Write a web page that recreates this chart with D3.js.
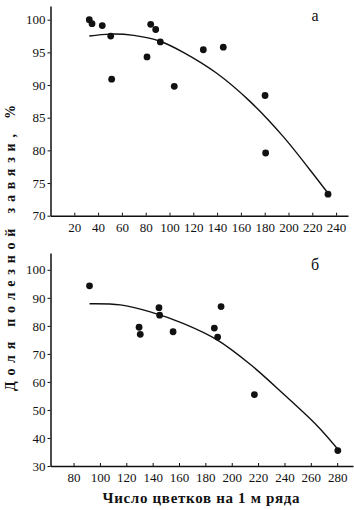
<!DOCTYPE html>
<html>
<head>
<meta charset="utf-8">
<script src="https://cdn.jsdelivr.net/npm/d3@7"></script>
<style>
  body { margin: 0; background: #fff; }
  .axis path, .axis line { stroke: #111; }
</style>
</head>
<body>
<div id="chart"></div>
<script>
// Panel "а": flowers per 1 m of row vs share of useful set, %
const flowersA = [32.6, 34.9, 43.5, 50.6, 51.4, 81.1, 84.2, 88.4, 92.3, 104, 128.4, 145.2, 180.3, 180.8, 233.2]
const shareA = [100, 99.4, 99.1, 97.5, 90.9, 94.3, 99.3, 98.5, 96.6, 89.8, 95.4, 95.8, 88.4, 79.6, 73.3]
// trend line
const trendXA = [32.6, 50, 70, 92, 111.6, 139.7, 167.6, 195.6, 218.1, 232.1]
const trendYA = [97.5, 97.8, 97.6, 96.7, 95.0, 91.8, 87.5, 82.1, 77.0, 73.7]
const xTicksA = [20, 40, 60, 80, 100, 120, 140, 160, 180, 200, 220, 240]
const yTicksA = [70, 75, 80, 85, 90, 95, 100]

// Panel "б"
const flowersB = [92.1, 129.7, 130.6, 144.8, 145.3, 155.5, 186.8, 189.3, 191.9, 217.2, 280.5]
const shareB = [94.3, 79.5, 77.0, 86.5, 83.8, 77.9, 79.2, 76.0, 86.9, 55.5, 35.5]
const trendXB = [92.1, 115.5, 138.2, 163.5, 188.9, 214.2, 239.5, 264.8, 280.5]
const trendYB = [87.9, 87.5, 85.0, 80.8, 75.0, 66.2, 55.6, 44.4, 36.0]
const xTicksB = [80, 100, 120, 140, 160, 180, 200, 220, 240, 260, 280]
const yTicksB = [30, 40, 50, 60, 70, 80, 90, 100]

const yLabel = "Доля полезной завязи, %"
const xLabel = "Число цветков на 1 м ряда"

const width = 354
const height = 510
const serif = "Liberation Serif, DejaVu Serif, serif"

const svg = d3.select("#chart").append("svg")
    .attr("width", width)
    .attr("height", height)

const panels = [
  {
    letter: "а", xs: flowersA, ys: shareA, tx: trendXA, ty: trendYA,
    xTicks: xTicksA, yTicks: yTicksA,
    xDomain: [0, 250], yDomain: [70, 102.1],
    left: 50.5, right: 348, top: 6, bottom: 215.7, letterY: 21
  },
  {
    letter: "б", xs: flowersB, ys: shareB, tx: trendXB, ty: trendYB,
    xTicks: xTicksB, yTicks: yTicksB,
    xDomain: [62.5, 292], yDomain: [30, 106],
    left: 50.5, right: 353, top: 253, bottom: 466, letterY: 270
  }
]

panels.forEach(p => {
  const x = d3.scaleLinear().domain(p.xDomain).range([p.left, p.right])
  const y = d3.scaleLinear().domain(p.yDomain).range([p.bottom, p.top])

  const g = svg.append("g")

  // Axes: x ticks point inward (up), y ticks point outward
  g.append("g")
      .attr("class", "axis")
      .attr("transform", `translate(0,${p.bottom})`)
      .call(d3.axisBottom(x).tickValues(p.xTicks).tickSizeInner(-3).tickSizeOuter(0).tickPadding(7))
      .attr("font-family", serif)
      .attr("font-size", 13)
      .call(a => a.select(".domain").attr("stroke-width", 1.5))
      .call(a => a.selectAll("text").attr("fill", "#111"))

  g.append("g")
      .attr("class", "axis")
      .attr("transform", `translate(${p.left},0)`)
      .call(d3.axisLeft(y).tickValues(p.yTicks).tickSize(3).tickSizeOuter(0).tickPadding(2))
      .attr("font-family", serif)
      .attr("font-size", 13)
      .call(a => a.select(".domain").attr("stroke-width", 1.5))
      .call(a => a.selectAll("text").attr("fill", "#111"))

  // Trend line (smoothed through the read points)
  const line = d3.line()
      .x(i => x(p.tx[i]))
      .y(i => y(p.ty[i]))
      .curve(d3.curveCatmullRom.alpha(0.5))
  g.append("path")
      .attr("d", line(d3.range(p.tx.length)))
      .attr("fill", "none")
      .attr("stroke", "#111")
      .attr("stroke-width", 1.4)

  // Observations
  g.selectAll("circle")
    .data(d3.range(p.xs.length))
    .join("circle")
      .attr("cx", i => x(p.xs[i]))
      .attr("cy", i => y(p.ys[i]))
      .attr("r", 3.4)
      .attr("fill", "#111")

  g.append("text")
      .attr("x", 315)
      .attr("y", p.letterY)
      .attr("text-anchor", "middle")
      .attr("font-family", serif)
      .attr("font-size", 16)
      .attr("fill", "#111")
      .text(p.letter)
})

// Shared axis titles
svg.append("text")
    .attr("transform", "translate(15,248) rotate(-90)")
    .attr("text-anchor", "middle")
    .attr("font-family", serif)
    .attr("font-size", 14)
    .attr("font-weight", "bold")
    .attr("fill", "#111")
    .attr("textLength", 286)
    .attr("lengthAdjust", "spacing")
    .text(yLabel)

svg.append("text")
    .attr("x", 201)
    .attr("y", 503)
    .attr("text-anchor", "middle")
    .attr("font-family", serif)
    .attr("font-size", 15)
    .attr("font-weight", "bold")
    .attr("fill", "#111")
    .attr("textLength", 197)
    .attr("lengthAdjust", "spacing")
    .text(xLabel)
</script>
</body>
</html>
